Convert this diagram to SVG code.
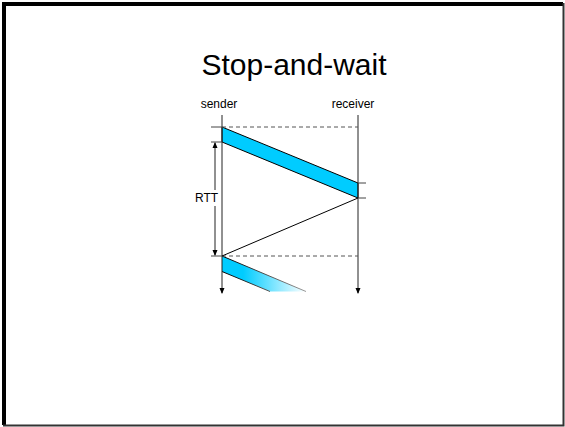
<svg xmlns="http://www.w3.org/2000/svg" width="565" height="427" viewBox="0 0 565 427">
<style>
text{font-family:"Liberation Sans",Arial,sans-serif;fill:#000}
.lbl{font-size:12px}
.ax{stroke:#222;stroke-width:1;fill:none}
.tick{stroke:#444;stroke-width:1}
.dash{stroke:#555;stroke-width:1;stroke-dasharray:4 3}
</style>
<defs>
<marker id="ah" viewBox="0 0 6 6" refX="5" refY="3" markerWidth="6" markerHeight="6" orient="auto" markerUnits="userSpaceOnUse">
<path d="M0,0.5 L6,3 L0,5.5 Z" fill="#000"/>
</marker>
<linearGradient id="fade" gradientUnits="userSpaceOnUse" x1="222" y1="0" x2="306" y2="0">
<stop offset="0.25" stop-color="#00CCFF"/>
<stop offset="1" stop-color="#FFFFFF"/>
</linearGradient>
<linearGradient id="fadeStroke" gradientUnits="userSpaceOnUse" x1="222" y1="0" x2="306" y2="0">
<stop offset="0" stop-color="#000"/>
<stop offset="1" stop-color="#999"/>
</linearGradient>
</defs>
<rect x="0" y="0" width="565" height="427" fill="#fff"/>
<path d="M4,425 V4 H563" fill="none" stroke="#000" stroke-width="4"/>
<path d="M563.5,3 V425.5 H3" fill="none" stroke="#333" stroke-width="2"/>
<g id="title"><text x="294" y="75" font-size="30" text-anchor="middle">Stop-and-wait</text></g>
<g id="sender"><text class="lbl" x="219" y="108" text-anchor="middle">sender</text></g>
<g id="receiver"><text class="lbl" x="353" y="108" text-anchor="middle">receiver</text></g>
<g id="packet1"><polygon points="222,127 358,183 358,198 222,142" fill="#00CCFF" stroke="#000" stroke-width="1"/></g>
<g id="packet2"><polygon points="222,256 306,291.5 270,291.5 222,271.5" fill="url(#fade)" stroke="none"/>
<path d="M222,256 L306,291.5 M222,271.5 L270,291.5" stroke="url(#fadeStroke)" stroke-width="1" fill="none"/></g>
<g id="connectors">
<line class="ax" x1="222" y1="115" x2="222" y2="293" marker-end="url(#ah)"/>
<line class="ax" x1="358" y1="115" x2="358" y2="293" marker-end="url(#ah)"/>
<line class="dash" x1="222" y1="127" x2="358" y2="127"/>
<line class="dash" x1="222" y1="256" x2="358" y2="256"/>
<line class="tick" x1="211" y1="127" x2="222" y2="127"/>
<line class="tick" x1="211" y1="142" x2="222" y2="142"/>
<line class="tick" x1="211" y1="256" x2="222" y2="256"/>
<line class="tick" x1="358" y1="183" x2="366" y2="183"/>
<line class="tick" x1="358" y1="198" x2="366" y2="198"/>
<line x1="358" y1="198" x2="222" y2="256" stroke="#000" stroke-width="1"/>
<line class="ax" x1="215" y1="190" x2="215" y2="143" marker-end="url(#ah)"/>
<line class="ax" x1="215" y1="206" x2="215" y2="255" marker-end="url(#ah)"/>
</g>
<g id="rtt"><text class="lbl" x="206.5" y="202" text-anchor="middle">RTT</text></g>
</svg>
